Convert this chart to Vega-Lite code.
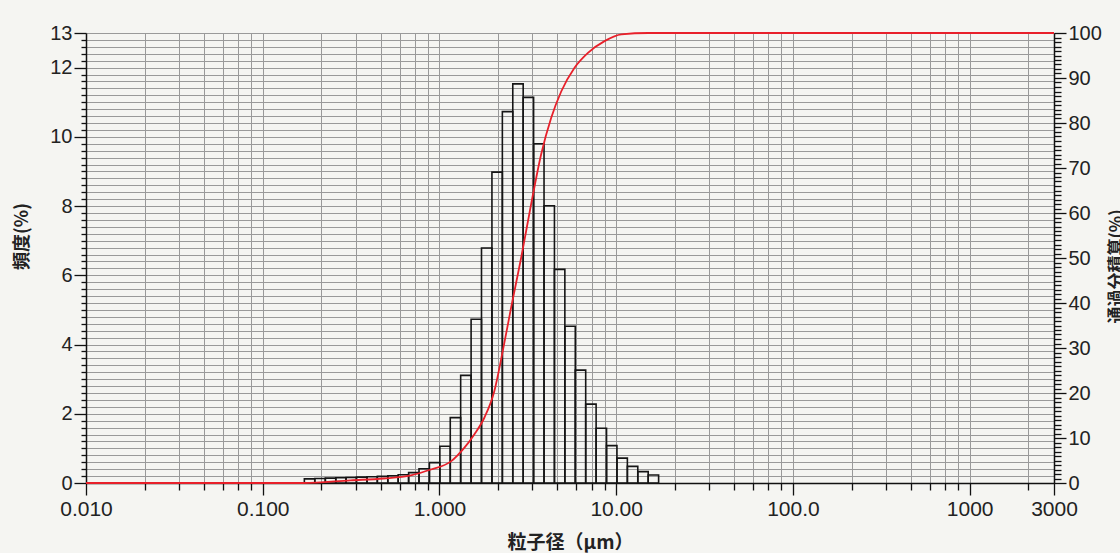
{
  "$schema": "https://vega.github.io/schema/vega-lite/v6.json",
  "width": 968,
  "height": 450,
  "autosize": {"type": "none"},
  "padding": {"left": 86, "top": 33, "right": 66, "bottom": 70},
  "background": "#f5f5f2",
  "config": {
    "view": {"stroke": null},
    "axis": {
      "domainColor": "#111111",
      "domainWidth": 1.5,
      "tickColor": "#111111",
      "tickWidth": 1.3,
      "gridColor": "#9a9a9a",
      "gridWidth": 1,
      "labelFont": "Liberation Sans",
      "labelColor": "#222222",
      "labelOverlap": false,
      "labelFlush": false,
      "titleFont": "Noto Sans CJK JP",
      "titleColor": "#222222",
      "titleFontWeight": "bold"
    }
  },
  "datasets": {
    "hist": [
      {"lo": 0.172, "hi": 0.197, "freq": 0.12},
      {"lo": 0.197, "hi": 0.226, "freq": 0.13},
      {"lo": 0.226, "hi": 0.259, "freq": 0.14},
      {"lo": 0.259, "hi": 0.296, "freq": 0.15},
      {"lo": 0.296, "hi": 0.339, "freq": 0.16},
      {"lo": 0.339, "hi": 0.389, "freq": 0.17},
      {"lo": 0.389, "hi": 0.445, "freq": 0.18},
      {"lo": 0.445, "hi": 0.510, "freq": 0.19},
      {"lo": 0.510, "hi": 0.584, "freq": 0.21},
      {"lo": 0.584, "hi": 0.669, "freq": 0.24},
      {"lo": 0.669, "hi": 0.766, "freq": 0.30},
      {"lo": 0.766, "hi": 0.877, "freq": 0.41},
      {"lo": 0.877, "hi": 1.005, "freq": 0.59},
      {"lo": 1.005, "hi": 1.151, "freq": 1.06},
      {"lo": 1.151, "hi": 1.318, "freq": 1.89},
      {"lo": 1.318, "hi": 1.510, "freq": 3.11},
      {"lo": 1.510, "hi": 1.729, "freq": 4.73},
      {"lo": 1.729, "hi": 1.981, "freq": 6.79},
      {"lo": 1.981, "hi": 2.269, "freq": 8.98},
      {"lo": 2.269, "hi": 2.599, "freq": 10.73},
      {"lo": 2.599, "hi": 2.976, "freq": 11.53},
      {"lo": 2.976, "hi": 3.409, "freq": 11.14},
      {"lo": 3.409, "hi": 3.905, "freq": 9.80},
      {"lo": 3.905, "hi": 4.472, "freq": 8.01},
      {"lo": 4.472, "hi": 5.122, "freq": 6.17},
      {"lo": 5.122, "hi": 5.867, "freq": 4.53},
      {"lo": 5.867, "hi": 6.720, "freq": 3.26},
      {"lo": 6.720, "hi": 7.697, "freq": 2.28},
      {"lo": 7.697, "hi": 8.816, "freq": 1.58},
      {"lo": 8.816, "hi": 10.097, "freq": 1.08},
      {"lo": 10.097, "hi": 11.565, "freq": 0.72},
      {"lo": 11.565, "hi": 13.246, "freq": 0.48},
      {"lo": 13.246, "hi": 15.172, "freq": 0.33},
      {"lo": 15.172, "hi": 17.377, "freq": 0.23}
    ],
    "cum": [
      {"d": 0.01, "cum": 0},
      {"d": 0.17, "cum": 0},
      {"d": 0.314, "cum": 0.6},
      {"d": 0.484, "cum": 1.0},
      {"d": 0.688, "cum": 1.7},
      {"d": 0.894, "cum": 3.0},
      {"d": 1.161, "cum": 4.8},
      {"d": 1.381, "cum": 7.8},
      {"d": 1.574, "cum": 10.8},
      {"d": 1.794, "cum": 14.5},
      {"d": 2.043, "cum": 20.4},
      {"d": 2.28, "cum": 29.3},
      {"d": 2.541, "cum": 38.9},
      {"d": 2.897, "cum": 50.0},
      {"d": 3.299, "cum": 61.9},
      {"d": 3.759, "cum": 73.0},
      {"d": 4.284, "cum": 81.1},
      {"d": 4.884, "cum": 87.0},
      {"d": 5.81, "cum": 92.3},
      {"d": 6.92, "cum": 95.6},
      {"d": 8.59, "cum": 98.2},
      {"d": 10.69, "cum": 99.7},
      {"d": 15.14, "cum": 100},
      {"d": 3000, "cum": 100}
    ]
  },
  "layer": [
    {
      "data": {"name": "hist"},
      "mark": {"type": "rect", "fill": "transparent", "stroke": "#151515", "strokeWidth": 1.6},
      "encoding": {
        "x": {
          "field": "lo",
          "type": "quantitative",
          "scale": {"type": "log", "domain": [0.01, 3000], "nice": false},
          "axis": {
            "values": [0.01, 0.0215, 0.0335, 0.0465, 0.0595, 0.0725, 0.086, 0.1, 0.215, 0.335, 0.465, 0.595, 0.725, 0.86, 1, 2.15, 3.35, 4.65, 5.95, 7.25, 8.6, 10, 21.5, 33.5, 46.5, 59.5, 72.5, 86, 100, 215, 335, 465, 595, 725, 860, 1000, 2150, 3000],
            "grid": true,
            "tickSize": {"condition": {"test": "abs(log(datum.value)/LN10 - round(log(datum.value)/LN10)) < 0.001 || datum.value == 3000", "value": 12}, "value": 7},
            "labelExpr": "datum.value == 0.01 ? '0.010' : datum.value == 0.1 ? '0.100' : datum.value == 1 ? '1.000' : datum.value == 10 ? '10.00' : datum.value == 100 ? '100.0' : datum.value == 1000 ? '1000' : datum.value == 3000 ? '3000' : ''",
            "labelFontSize": 21,
            "labelPadding": 3,
            "title": "粒子径（μm）",
            "titleFontSize": 19,
            "titleX": 484,
            "titleY": 50,
            "titleAlign": "center",
            "titleBaseline": "top"
          }
        },
        "x2": {"field": "hi"},
        "y": {
          "field": "freq",
          "type": "quantitative",
          "scale": {"domain": [0, 13], "nice": false},
          "axis": {
            "values": [0,0.2,0.4,0.6,0.8,1,1.2,1.4,1.6,1.8,2,2.2,2.4,2.6,2.8,3,3.2,3.4,3.6,3.8,4,4.2,4.4,4.6,4.8,5,5.2,5.4,5.6,5.8,6,6.2,6.4,6.6,6.8,7,7.2,7.4,7.6,7.8,8,8.2,8.4,8.6,8.8,9,9.2,9.4,9.6,9.8,10,10.2,10.4,10.6,10.8,11,11.2,11.4,11.6,11.8,12,12.2,12.4,12.6,12.8,13],
            "grid": true,
            "tickSize": {"condition": {"test": "abs(datum.value - round(datum.value)) < 0.01 && (round(datum.value) % 2 == 0 || round(datum.value) == 13)", "value": 12}, "value": 5},
            "labelExpr": "abs(datum.value - round(datum.value)) < 0.01 && (round(datum.value) % 2 == 0 || round(datum.value) == 13) ? format(datum.value, 'd') : ''",
            "labelFontSize": 20,
            "labelPadding": 2,
            "title": "頻度(%)",
            "titleFontSize": 18,
            "titleAngle": -90,
            "titleX": -64,
            "titleY": 203,
            "titleAlign": "center",
            "titleBaseline": "middle"
          }
        },
        "y2": {"datum": 0}
      }
    },
    {
      "data": {"name": "cum"},
      "mark": {"type": "line", "interpolate": "monotone", "color": "#e8202a", "strokeWidth": 1.8},
      "encoding": {
        "x": {"field": "d", "type": "quantitative"},
        "y": {
          "field": "cum",
          "type": "quantitative",
          "scale": {"domain": [0, 100], "nice": false},
          "axis": {
            "orient": "right",
            "values": [0,1,2,3,4,5,6,7,8,9,10,11,12,13,14,15,16,17,18,19,20,21,22,23,24,25,26,27,28,29,30,31,32,33,34,35,36,37,38,39,40,41,42,43,44,45,46,47,48,49,50,51,52,53,54,55,56,57,58,59,60,61,62,63,64,65,66,67,68,69,70,71,72,73,74,75,76,77,78,79,80,81,82,83,84,85,86,87,88,89,90,91,92,93,94,95,96,97,98,99,100],
            "grid": false,
            "tickSize": {"condition": {"test": "round(datum.value) % 10 == 0", "value": 12}, "value": 7},
            "labelExpr": "round(datum.value) % 10 == 0 ? format(datum.value, 'd') : ''",
            "labelFontSize": 20,
            "labelPadding": 2,
            "title": "通過分積算(%)",
            "titleFontSize": 17,
            "titleAngle": -90,
            "titleX": 62,
            "titleY": 233,
            "titleAlign": "center",
            "titleBaseline": "middle"
          }
        }
      }
    }
  ],
  "resolve": {"scale": {"y": "independent"}}
}
